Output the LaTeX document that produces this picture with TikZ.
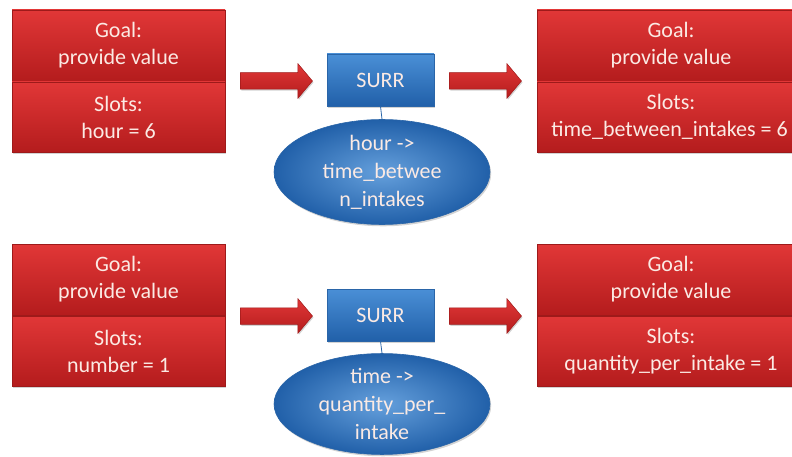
\documentclass[tikz,border=0pt]{standalone}
\usepackage{fontspec}
\setmainfont{Carlito}
\usetikzlibrary{shapes.geometric,shapes.arrows,shadows}
\definecolor{redtop}{HTML}{E13737}
\definecolor{redbot}{HTML}{B41C1D}
\definecolor{redline}{HTML}{9E1A1A}
\definecolor{bluetop}{HTML}{4A8FD6}
\definecolor{bluebot}{HTML}{2160A9}
\definecolor{blueline}{HTML}{2A65A8}
\definecolor{lighttxt}{HTML}{FBEAE4}
\tikzset{
  base/.style={font=\fontsize{22}{27}\selectfont, text=lighttxt, align=center, inner sep=0pt,
    drop shadow={shadow xshift=1.2pt, shadow yshift=-1.8pt, opacity=0.35}},
  redbox/.style={base, rectangle, draw=redline, line width=0.6pt, top color=redtop, bottom color=redbot},
  surrbox/.style={base, rectangle, draw=blueline, line width=0.6pt, top color=bluetop, bottom color=bluebot,
    minimum width=107pt, minimum height=52pt},
  mapell/.style={base, ellipse, draw=blueline, line width=0.6pt, inner color=bluetop!85!white, outer color=bluebot,
    minimum width=216pt, minimum height=100pt, font=\fontsize{22}{28}\selectfont},
  blockarrow/.style={single arrow, draw=redline, line width=0.5pt, top color=redtop, bottom color=redbot,
    minimum height=72pt, single arrow head extend=9pt, single arrow tip angle=100,
    inner sep=0pt, drop shadow={shadow xshift=1pt, shadow yshift=-1.5pt, opacity=0.35}},
  link/.style={draw=blueline, line width=0.8pt}
}
\newcommand{\arrowbody}{\rule{0pt}{16pt}}
\begin{document}
\begin{tikzpicture}[x=1pt,y=-1pt]
\useasboundingbox (0,0) rectangle (792,457);
% top row
\node[redbox, minimum width=213pt, minimum height=71pt] (g1) at (118.5,45.5) {Goal:\\provide value};
\node[redbox, minimum width=213pt, minimum height=70pt] (s1) at (118.5,117) {Slots:\\hour = 6};
\node[blockarrow] (a1) at (273,81) {\arrowbody};
\node[surrbox] (r1) at (380.5,80) {SURR};
\node[mapell] (e1) at (382,172) {hour ->\\time\_betwee\\n\_intakes};
\draw[link] (r1.south) -- (e1.north);
\node[blockarrow] (a2) at (482,81) {\arrowbody};
\node[redbox, minimum width=268pt, minimum height=71pt] (g2) at (671,45.5) {Goal:\\provide value};
\node[redbox, minimum width=268pt, minimum height=70pt] (s2) at (671,117) {Slots:\\\hspace*{-3pt}time\_between\_intakes = 6};
% bottom row
\node[redbox, minimum width=213pt, minimum height=71pt] (g3) at (118.5,279.5) {Goal:\\provide value};
\node[redbox, minimum width=213pt, minimum height=70pt] (s3) at (118.5,351) {Slots:\\number = 1};
\node[blockarrow] (a3) at (273,316) {\arrowbody};
\node[surrbox] (r2) at (380.5,315) {SURR};
\node[mapell] (e2) at (382,404) {time ->\\quantity\_per\_\\intake};
\draw[link] (r2.south) -- (e2.north);
\node[blockarrow] (a4) at (482,316) {\arrowbody};
\node[redbox, minimum width=268pt, minimum height=71pt] (g4) at (671,279.5) {Goal:\\provide value};
\node[redbox, minimum width=268pt, minimum height=70pt] (s4) at (671,351) {Slots:\\quantity\_per\_intake = 1};
\end{tikzpicture}
\end{document}
